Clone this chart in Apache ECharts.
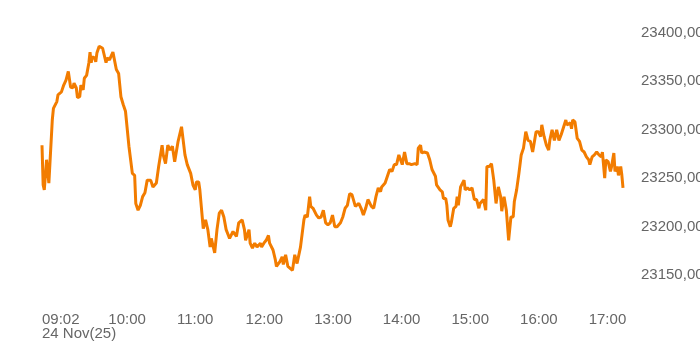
<!DOCTYPE html>
<html>
<head>
<meta charset="utf-8">
<script src="https://cdn.jsdelivr.net/npm/echarts@6/dist/echarts.min.js"></script>
<style>html,body{margin:0;padding:0;background:#fff;}#c{width:700px;height:350px;}</style>
</head>
<body>
<div id="c"></div>
<script>
// minutes since midnight (09:02 = 542 ... 17:30 = 1050)
const times = [542,543,544,546,548,549,551,552,555,556,559,561,563,565,567,569,570,572,573,575,576,578,579,581,583,584,585,586,588,589,590,592,593,595,596,598,599,601,602,604,605,607,609,611,613,615,616,618,621,623,624,626,628,630,632,634,637,639,642,644,647,648,650,652,654,656,658,661,664,667,669,672,674,676,677,679,680,683,685,687,689,690,693,695,697,699,701,703,705,706,709,712,714,717,719,720,723,724,726,728,730,733,734,736,738,740,741,744,746,747,750,752,753,755,757,759,761,763,765,768,771,772,774,776,777,779,782,784,786,788,790,792,794,796,798,800,803,805,807,809,811,813,814,816,819,821,823,825,827,830,832,834,836,838,839,842,844,846,848,850,852,854,855,857,859,861,863,865,868,870,871,873,874,876,879,881,883,884,886,887,890,892,893,895,896,897,899,900,902,904,905,906,908,911,912,914,916,918,920,922,924,925,928,930,931,933,935,937,939,941,943,944,946,948,950,952,954,955,957,959,961,963,965,967,969,971,972,974,976,978,979,981,983,985,986,988,990,992,994,996,997,1000,1001,1002,1004,1005,1006,1008,1010,1012,1014,1016,1018,1020,1021,1023,1025,1027,1029,1031,1032,1034,1035,1037,1039,1040,1042,1043,1045,1046,1048,1049,1050];
const prices = [23284,23243,23238,23269,23245,23243,23310,23322,23329,23336,23339,23346,23351,23360,23344,23343,23348,23343,23333,23334,23346,23341,23353,23356,23369,23380,23369,23375,23374,23370,23379,23386,23387,23384,23382,23369,23374,23372,23374,23380,23379,23362,23358,23334,23326,23319,23317,23283,23255,23253,23224,23217,23222,23231,23235,23248,23248,23241,23245,23262,23284,23274,23265,23284,23279,23283,23267,23288,23303,23274,23264,23255,23243,23238,23246,23246,23238,23198,23207,23197,23179,23188,23173,23197,23214,23217,23210,23197,23191,23188,23195,23190,23204,23207,23197,23186,23197,23183,23178,23183,23179,23183,23179,23183,23186,23191,23183,23176,23166,23159,23164,23169,23161,23171,23159,23157,23155,23171,23162,23179,23207,23212,23210,23231,23221,23219,23212,23209,23210,23217,23204,23202,23204,23212,23200,23200,23204,23210,23219,23222,23234,23233,23233,23221,23224,23219,23212,23219,23228,23221,23219,23231,23240,23236,23241,23245,23252,23259,23257,23264,23264,23274,23276,23264,23277,23265,23265,23264,23265,23264,23281,23284,23276,23277,23276,23269,23259,23259,23252,23243,23238,23236,23229,23229,23222,23207,23200,23205,23219,23221,23231,23222,23241,23248,23238,23240,23238,23240,23228,23228,23219,23224,23228,23217,23262,23262,23265,23248,23224,23241,23231,23216,23231,23217,23186,23210,23210,23226,23238,23255,23274,23281,23298,23289,23288,23277,23277,23298,23298,23293,23305,23293,23284,23279,23289,23300,23289,23300,23289,23295,23296,23310,23305,23303,23307,23301,23310,23308,23291,23288,23279,23277,23272,23269,23264,23272,23274,23277,23274,23272,23277,23250,23269,23267,23257,23262,23276,23257,23262,23253,23262,23253,23240];
const xTickValues = [542,600,660,720,780,840,900,960,1020];
const xTickLabels = ['09:02','10:00','11:00','12:00','13:00','14:00','15:00','16:00','17:00'];
const dateLabel = '24 Nov(25)';
const yMin = 23100, yMax = 23400, yStep = 50;

const chart = echarts.init(document.getElementById('c'), null, {renderer:'canvas'});
const data = times.map((t,i)=>[t, prices[i]]);
const labelFont = {fontFamily:'Liberation Sans, Arial, sans-serif', fontSize:15, lineHeight:14, color:'#666666'};
chart.setOption({
  animation:false,
  grid:{left:42, right:77, top:32.7, bottom:26.3, outerBoundsMode:'none', containLabel:false},
  xAxis:[{
    type:'value', min:542, max:1050,
    axisLine:{show:false}, axisTick:{show:false}, splitLine:{show:false},
    axisLabel:Object.assign({
      customValues: xTickValues,
      hideOverlap:false, showMinLabel:true, showMaxLabel:true,
      align:'left', margin:-11,
      formatter:function(v){
        const i = xTickValues.indexOf(v);
        return i<0 ? '' : xTickLabels[i];
      }
    }, labelFont)
  },{
    type:'value', min:542, max:1050, position:'bottom',
    axisLine:{show:false}, axisTick:{show:false}, splitLine:{show:false},
    axisLabel:Object.assign({
      customValues:[xTickValues[0]],
      hideOverlap:false, showMinLabel:true,
      align:'left', margin:3,
      formatter:function(){ return dateLabel; }
    }, labelFont)
  }],
  yAxis:{
    type:'value', position:'right', min:yMin, max:yMax, interval:yStep,
    axisLine:{show:false}, axisTick:{show:false}, splitLine:{show:false},
    axisLabel:{
      showMinLabel:false, margin:18, hideOverlap:false,
      fontFamily:'Liberation Sans, Arial, sans-serif', fontSize:15, color:'#666666',
      formatter:function(v){ return v.toFixed(2).replace('.', ','); }
    }
  },
  series:[{
    type:'line', xAxisIndex:0, data:data, showSymbol:false, symbol:'none',
    lineStyle:{color:'#f27c00', width:3}, itemStyle:{color:'#f27c00'}
  }]
});
</script>
</body>
</html>
